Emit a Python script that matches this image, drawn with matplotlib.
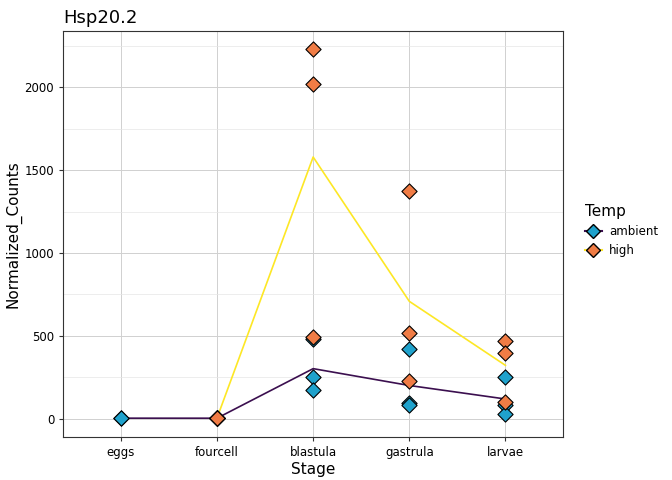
import matplotlib
matplotlib.use("Agg")
import matplotlib.pyplot as plt
import numpy as np
from matplotlib.lines import Line2D

stages = ['eggs', 'fourcell', 'blastula', 'gastrula', 'larvae']
amb_stage = ['eggs', 'eggs', 'fourcell', 'fourcell', 'fourcell',
             'blastula', 'blastula', 'blastula',
             'gastrula', 'gastrula', 'gastrula',
             'larvae', 'larvae', 'larvae']
amb_vals = [3, 2, 4, 2, 1, 480, 250, 175, 420, 95, 85, 250, 80, 25]
high_stage = ['fourcell', 'fourcell', 'fourcell',
              'blastula', 'blastula', 'blastula',
              'gastrula', 'gastrula', 'gastrula',
              'larvae', 'larvae', 'larvae']
high_vals = [5, 3, 2, 2230, 2020, 490, 1375, 520, 230, 470, 395, 100]

amb_fill, high_fill = '#1FA2CC', '#F07C45'
amb_line, high_line = '#3B0F4F', '#FDE725'

def means(st, vals):
    xs, ms = [], []
    for i, s in enumerate(stages):
        v = [val for ss, val in zip(st, vals) if ss == s]
        if v:
            xs.append(i); ms.append(np.mean(v))
    return xs, ms

fig, ax = plt.subplots(figsize=(6.72, 4.8), dpi=100)
fig.subplots_adjust(left=0.094, right=0.838, top=0.935, bottom=0.09)

ax.scatter([stages.index(s) for s in amb_stage], amb_vals, marker='D', s=60,
           color=amb_fill, edgecolor='black', linewidth=0.8, zorder=3)
ax.scatter([stages.index(s) for s in high_stage], high_vals, marker='D', s=60,
           color=high_fill, edgecolor='black', linewidth=0.8, zorder=3)
x, m = means(amb_stage, amb_vals)
ax.plot(x, m, color=amb_line, lw=1.2, zorder=2)
x, m = means(high_stage, high_vals)
ax.plot(x, m, color=high_line, lw=1.2, zorder=2)

ax.set_xlim(-0.6, 4.6)
ax.set_ylim(-110, 2340)
ax.set_xticks(range(len(stages)))
ax.set_xticklabels(stages)
ax.set_yticks([0, 500, 1000, 1500, 2000])
ax.set_yticks([250, 750, 1250, 1750, 2250], minor=True)
ax.grid(True, which='major', color='#D0D0D0', lw=0.7)
ax.grid(True, which='minor', color='#E6E6E6', lw=0.5)
ax.set_axisbelow(True)
for sp in ax.spines.values():
    sp.set_color('#333333'); sp.set_linewidth(0.8)
ax.tick_params(labelsize=8.5, colors='#333333', length=3, labelcolor='black')
ax.tick_params(which='minor', length=0)
ax.set_xlabel('Stage', fontsize=11, labelpad=2)
ax.set_ylabel('Normalized_Counts', fontsize=11, labelpad=2)
ax.set_title('Hsp20.2', fontsize=13, loc='left')

handles = [Line2D([], [], color=amb_line, marker='D', markerfacecolor=amb_fill,
                  markeredgecolor='black', markersize=7),
           Line2D([], [], color=high_line, marker='D', markerfacecolor=high_fill,
                  markeredgecolor='black', markersize=7)]
leg = fig.legend(handles, ['ambient', 'high'], title='Temp', loc='center left',
                 bbox_to_anchor=(0.855, 0.52), frameon=False, fontsize=8.5,
                 title_fontsize=11, handlelength=1.4, handletextpad=0.6)
leg._legend_box.align = 'left'

fig.savefig('out.png', dpi=100)
